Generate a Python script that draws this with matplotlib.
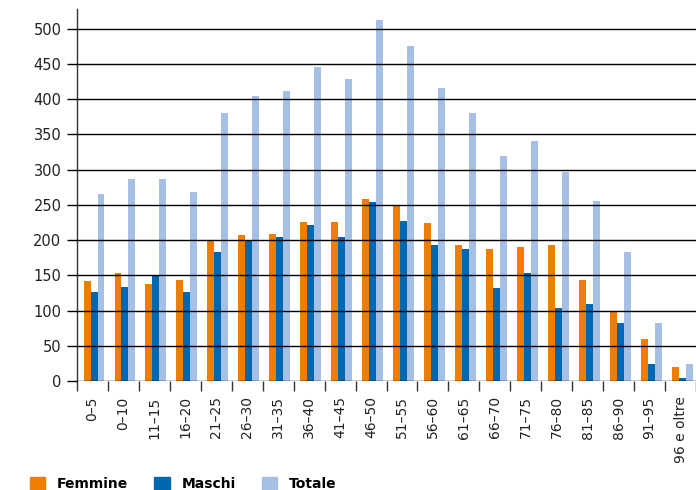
import numpy as np
import matplotlib.pyplot as plt
from matplotlib.patches import Patch

# age groups (labels as printed in the source)
classi = ['0–5', '0–10', '11–15', '16–20', '21–25', '26–30', '31–35', '36–40',
          '41–45', '46–50', '51–55', '56–60', '61–65', '66–70', '71–75', '76–80',
          '81–85', '86–90', '91–95', '96 e oltre']

femmine = [142, 153, 137, 143, 199, 207, 208, 225, 225, 259,
           250, 224, 193, 187, 190, 193, 143, 99, 60, 20]
maschi = [126, 134, 150, 126, 183, 199, 204, 221, 204, 254,
          227, 193, 187, 132, 154, 103, 110, 82, 24, 4]
totale = [265, 286, 286, 268, 381, 404, 412, 445, 429, 513,
          476, 416, 381, 319, 341, 296, 256, 183, 83, 24]

c_f = '#EF7D00'
c_m = '#0067B1'
c_t = '#A6C0E5'

fig = plt.figure(figsize=(6.96, 4.90), dpi=100)
plt.rcParams['font.family'] = 'DejaVu Sans'
ax = fig.add_axes([77/696, 109/490, 619/696, 372/490])

x = np.arange(len(classi))
w = 0.225
ax.bar(x - 0.175, femmine, w, color=c_f, zorder=1)
ax.bar(x + 0.05, maschi, w, color=c_m, zorder=1)
ax.bar(x + 0.275, totale, w, color=c_t, zorder=1)

ax.set_xlim(-0.5, -0.5 + 619/31.2)
ax.set_ylim(0, 528)

ax.set_yticks(np.arange(0, 501, 50))
ax.yaxis.grid(True, color='black', linewidth=1.0, zorder=3)
ax.set_axisbelow(False)
ax.tick_params(axis='y', length=7.2, width=1.0, color='black', pad=4,
               labelsize=10.5, labelcolor='#222222')

ax.set_xticks(x)
ax.set_xticklabels(classi, rotation=90)
ax.set_xticks(np.arange(-0.5, len(classi), 1), minor=True)
ax.tick_params(axis='x', which='major', length=0, pad=11, labelsize=10,
               labelcolor='#222222')
ax.tick_params(axis='x', which='minor', length=7.2, width=1.0, color='#333333')

for s in ['top', 'right', 'bottom']:
    ax.spines[s].set_visible(False)
ax.spines['left'].set_color('#333333')
ax.spines['left'].set_linewidth(1.0)

handles = [Patch(color=c_f, label='Femmine'),
           Patch(color=c_m, label='Maschi'),
           Patch(color=c_t, label='Totale')]
fig.legend(handles=handles, loc='lower left', bbox_to_anchor=(17/696, -0.028),
           ncol=3, frameon=False, handlelength=1.1, handleheight=1.1,
           handletextpad=0.85, columnspacing=1.9,
           prop={'size': 10, 'weight': 'bold'})

fig.savefig('out.png', dpi=100)
